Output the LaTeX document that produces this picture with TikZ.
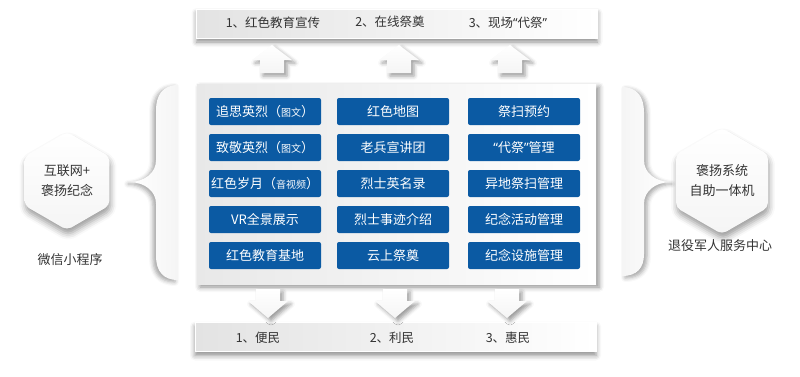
\documentclass[tikz,border=0pt]{standalone}
\usepackage{fontspec}
\setmainfont{Noto Sans CJK SC}
\newfontfamily\qf{Noto Sans}
\usetikzlibrary{shadows.blur,shapes.geometric}
\definecolor{boxblue}{HTML}{0B5AA3}
\definecolor{txt}{HTML}{333333}
\newcommand{\sm}[1]{{\fontsize{10}{12}\selectfont #1}}
\newcommand{\myql}{{\qf “}}
\newcommand{\myqr}{{\qf ”}}
\begin{document}
\begin{tikzpicture}[x=1pt,y=-1pt,
  bluebox/.style={fill=boxblue,rounded corners=2pt,minimum width=112pt,minimum height=27pt,text=white,font=\fontsize{13}{15}\selectfont,inner sep=0pt},
  bar/.style={draw=white,line width=0.6pt,left color=black!11,right color=white,minimum width=401pt,minimum height=29pt,inner sep=0pt,blur shadow={shadow xshift=0pt,shadow yshift=-4pt,shadow blur radius=5pt,shadow opacity=45}},
  bartext/.style={text=txt,font=\fontsize{12.5}{14}\selectfont,inner sep=0pt},
  lbl/.style={text=txt,font=\fontsize{13}{15}\selectfont,inner sep=0pt},
  hexa/.style={regular polygon,regular polygon sides=6,shape border rotate=30,minimum size=98pt,inner sep=0pt,top color=white,bottom color=black!4,rounded corners=5pt,blur shadow={shadow xshift=1pt,shadow yshift=-5pt,shadow blur radius=6pt,shadow opacity=40},text=txt,align=center,font=\fontsize{13}{20}\selectfont},
  panelbox/.style={left color=black!9,right color=white,minimum width=399pt,minimum height=200pt,inner sep=0pt,blur shadow={shadow xshift=3pt,shadow yshift=-3pt,shadow blur radius=5pt,shadow opacity=45}},
  arrowfill/.style={top color=white,bottom color=black!4,blur shadow={shadow xshift=3pt,shadow yshift=-3pt,shadow blur radius=4pt,shadow opacity=40}},
  uparr/.pic={\path[arrowfill] (0,0) -- (20,15) -- (12,15) -- (12,28) -- (-12,28) -- (-12,15) -- (-20,15) -- cycle;},
  dnarr/.pic={\path[arrowfill] (0,0) -- (20,-17) -- (12,-17) -- (12,-29) -- (-12,-29) -- (-12,-17) -- (-20,-17) -- cycle;}
]
\useasboundingbox (0,0) rectangle (800,376);

% braces
\path[left color=white,right color=black!4,blur shadow={shadow xshift=-3pt,shadow yshift=-2pt,shadow blur radius=4pt,shadow opacity=35}]
  (178,85) .. controls (163,85) and (156,95) .. (156,110) -- (156,160)
  .. controls (156,173) and (145,181) .. (131,182)
  .. controls (145,183) and (156,191) .. (156,204) -- (156,256)
  .. controls (156,271) and (163,280) .. (178,280) -- cycle;
\path[left color=black!4,right color=white,blur shadow={shadow xshift=3pt,shadow yshift=-2pt,shadow blur radius=4pt,shadow opacity=35}]
  (622,87) .. controls (637,87) and (644,97) .. (644,112) -- (644,160)
  .. controls (644,173) and (655,181) .. (669,182)
  .. controls (655,183) and (644,191) .. (644,204) -- (644,254)
  .. controls (644,268) and (637,276) .. (622,276) -- cycle;

% main panel
\node[panelbox] (panel) at (396.5,184) {};

% top bar
\node[bar] (top) at (397,23.5) {};
\node[bartext] (t1) at (273,23) {1、红色教育宣传};
\node[bartext] (t2) at (390,22) {2、在线祭奠};
\node[bartext] (t3) at (508,23) {3、现场\myql 代祭\myqr};

% bottom bar
\node[bar] (bot) at (395.5,337) {};
\node[bartext] (b1) at (258,338) {1、便民};
\node[bartext] (b2) at (392,338) {2、利民};
\node[bartext] (b3) at (508,338) {3、惠民};

% arrows
\pic at (272,45) {uparr};
\pic at (399,45) {uparr};
\pic at (510,45) {uparr};
\pic at (268,318) {dnarr};
\pic at (395,318) {dnarr};
\pic at (507,318) {dnarr};

% blue boxes
\node[bluebox] (a1) at (265,111.5) {追思英烈（\sm{图文}）};
\node[bluebox] (a2) at (265,147.5) {致敬英烈（\sm{图文}）};
\node[bluebox] (a3) at (265,183.5) {红色岁月（\sm{音视频}）};
\node[bluebox] (a4) at (265,219.5) {VR全景展示};
\node[bluebox] (a5) at (265,255.5) {红色教育基地};
\node[bluebox] (c1) at (393,111.5) {红色地图};
\node[bluebox] (c2) at (393,147.5) {老兵宣讲团};
\node[bluebox] (c3) at (393,183.5) {烈士英名录};
\node[bluebox] (c4) at (393,219.5) {烈士事迹介绍};
\node[bluebox] (c5) at (393,255.5) {云上祭奠};
\node[bluebox] (d1) at (524,111.5) {祭扫预约};
\node[bluebox] (d2) at (524,147.5) {\myql 代祭\myqr 管理};
\node[bluebox] (d3) at (524,183.5) {异地祭扫管理};
\node[bluebox] (d4) at (524,219.5) {纪念活动管理};
\node[bluebox] (d5) at (524,255.5) {纪念设施管理};

% hexagons
\node[hexa] (h1) at (67,181) {互联网+\\褒扬纪念};
\node[hexa] (h2) at (722,181) {褒扬系统\\自助一体机};
\node[lbl] (l1) at (70,260) {微信小程序};
\node[lbl] (l2) at (720,246) {退役军人服务中心};
\end{tikzpicture}
\end{document}
